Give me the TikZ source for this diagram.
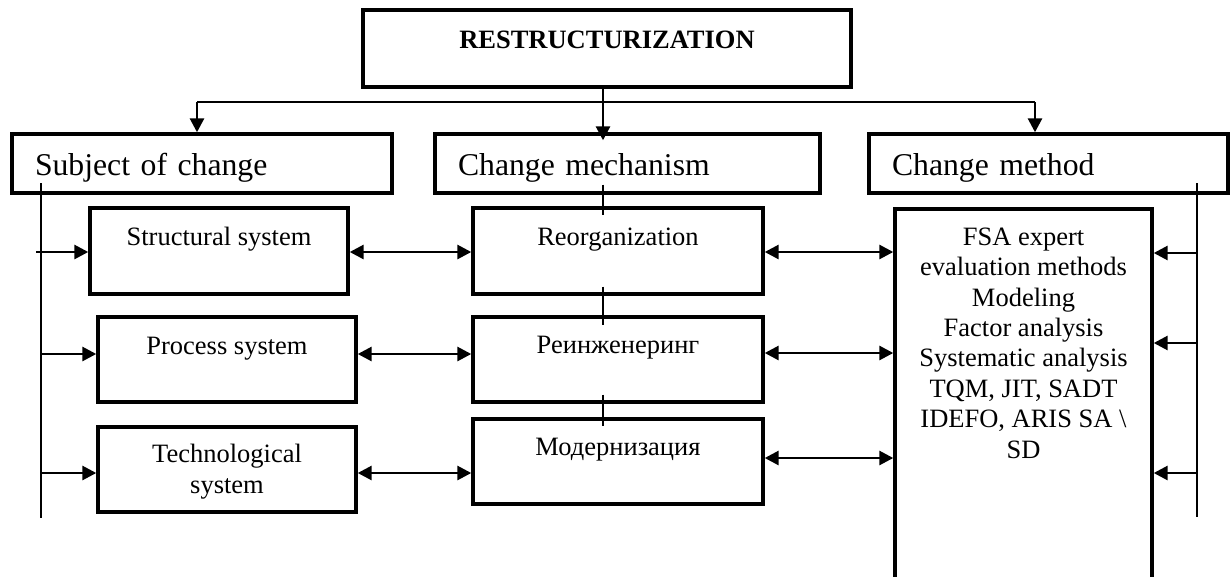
\documentclass[tikz,border=0pt]{standalone}
\usepackage{fontspec}
\setmainfont{Liberation Serif}
\usetikzlibrary{arrows.meta,positioning}

\begin{document}
\begin{tikzpicture}[x=1pt,y=-1pt,
  box/.style={draw,line width=3.4pt,fill=white,inner sep=0pt,align=center,font=\fontsize{26.5}{30.4}\selectfont},
  headbox/.style={box,font=\fontsize{26.5}{30.4}\selectfont\bfseries},
  groupbox/.style={box,inner xsep=23pt,align=left,font=\fontsize{31.7}{36}\selectfont},
  arr/.style={-{Triangle[length=14pt,width=14pt]},line width=2.8pt},
  dbl/.style={{Triangle[length=14pt,width=14pt]}-{Triangle[length=14pt,width=14pt]},line width=2.8pt},
  bus/.style={line width=2.8pt},
  link/.style={line width=2.2pt}]
  \useasboundingbox (0,0) rectangle (1231,576);
  \clip (0,0) rectangle (1231,576);
  % Top box
  \node[headbox,minimum width=488pt,minimum height=77pt,text height=38pt,text depth=39pt] (top) at (607,48.5) {RESTRUCTURIZATION};
  % Group headers
  \node[groupbox,text width=334pt,minimum height=59pt,text height=41pt,text depth=18pt] (subj) at (202,163.5) {Subject of change};
  \node[groupbox,text width=339pt,minimum height=59pt,text height=41pt,text depth=18pt] (mech) at (627.5,163.5) {Change mechanism};
  \node[groupbox,text width=313pt,minimum height=59pt,text height=41pt,text depth=18pt] (meth) at (1048.5,163.5) {Change method};
  % Subject column
  \node[box,minimum width=258pt,minimum height=86pt,text height=37pt,text depth=49pt] (struct) at (219,251) {Structural system};
  \node[box,minimum width=258pt,minimum height=85pt,text height=37pt,text depth=48pt] (proc) at (227,359.5) {Process system};
  \node[box,minimum width=258pt,minimum height=85pt,text height=66pt,text depth=19pt] (tech) at (227,469.5) {Technological\\system};
  % Mechanism column
  \node[box,minimum width=290pt,minimum height=86pt,text height=37pt,text depth=49pt] (reorg) at (618,251) {Reorganization};
  \node[box,minimum width=290pt,minimum height=85pt,text height=36pt,text depth=49pt] (reeng) at (618,359.5) {Реинженеринг};
  \node[box,minimum width=290pt,minimum height=85pt,text height=36pt,text depth=49pt] (moder) at (618,461.5) {Модернизация};
  % Method column
  \node[box,minimum width=257pt,minimum height=391pt,text height=249pt,text depth=142pt] (fsa) at (1023.5,404.5) {FSA expert\\evaluation methods\\Modeling\\Factor analysis\\Systematic analysis\\TQM, JIT, SADT\\IDEFO, ARIS SA \textbackslash\\SD};
  % Rows
  \coordinate (a1) at (0,252);
  \coordinate (a2) at (0,354);
  \coordinate (a3) at (0,473);
  \coordinate (b1) at (0,252);
  \coordinate (b2) at (0,353);
  \coordinate (b3) at (0,458);
  \coordinate (c1) at (0,253);
  \coordinate (c2) at (0,343);
  \coordinate (c3) at (0,473);
  % Distribution from the top
  \coordinate (hub) at (603,102);
  \coordinate (lft) at (197,102);
  \coordinate (rgt) at (1035,102);
  \draw[bus] (lft) -- (rgt);
  \draw[arr] (lft) -- (lft |- subj.north);
  \draw[arr] (rgt) -- (rgt |- meth.north);
  \draw[arr,shorten >=-8pt] (hub |- top.south) -- (hub |- mech.north);
  % Left bus
  \coordinate (lbusT) at (41,183);
  \coordinate (lbusB) at (41,518);
  \draw[bus] (lbusT) -- (lbusB);
  \draw[arr,shorten <=-5pt] (lbusT |- a1) -- (struct.west |- a1);
  \draw[arr] (lbusT |- a2) -- (proc.west |- a2);
  \draw[arr] (lbusT |- a3) -- (tech.west |- a3);
  % Subject <-> mechanism
  \draw[dbl] (struct.east |- a1) -- (reorg.west |- a1);
  \draw[dbl] (proc.east |- a2) -- (reeng.west |- a2);
  \draw[dbl] (tech.east |- a3) -- (moder.west |- a3);
  % Mechanism <-> method
  \draw[dbl] (reorg.east |- b1) -- (fsa.west |- b1);
  \draw[dbl] (reeng.east |- b2) -- (fsa.west |- b2);
  \draw[dbl] (moder.east |- b3) -- (fsa.west |- b3);
  % Right bus
  \coordinate (rbusT) at (1197,183);
  \coordinate (rbusB) at (1197,517);
  \draw[bus] (rbusT) -- (rbusB);
  \draw[arr] (rbusT |- c1) -- (fsa.east |- c1);
  \draw[arr] (rbusT |- c2) -- (fsa.east |- c2);
  \draw[arr] (rbusT |- c3) -- (fsa.east |- c3);
  % Links through the mechanism column
  \draw[link,shorten <=-10pt,shorten >=-9pt] (hub |- mech.south) -- (hub |- reorg.north);
  \draw[link,shorten <=-9pt,shorten >=-10pt] (hub |- reorg.south) -- (hub |- reeng.north);
  \draw[link,shorten <=-9pt,shorten >=-9pt] (hub |- reeng.south) -- (hub |- moder.north);
\end{tikzpicture}
\end{document}
